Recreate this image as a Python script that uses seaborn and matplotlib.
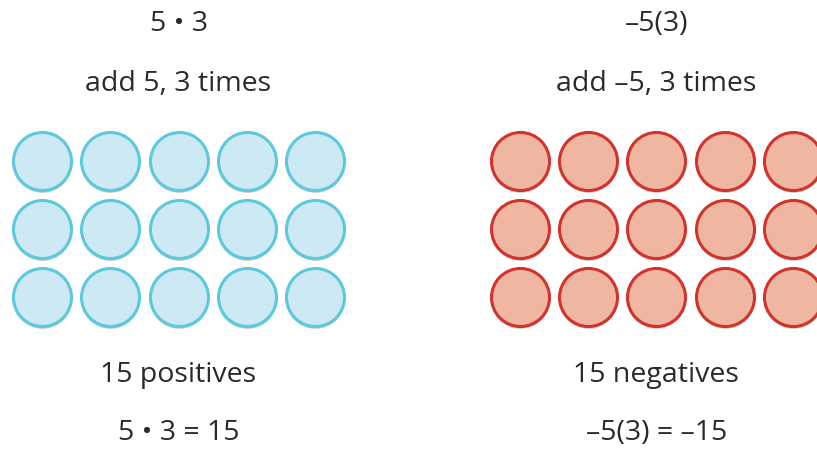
import seaborn as sns
import matplotlib.pyplot as plt
import pandas as pd

# counters: 5 per row, 3 rows, one panel of positives and one of negatives
panels = ["positive", "negative"]
per_row = 5
n_rows = 3
panel_gap = 7  # columns from one panel's first counter to the next

titles = ["5 • 3", "–5(3)"]
subtitles = ["add 5, 3 times", "add –5, 3 times"]
totals = ["15 positives", "15 negatives"]
results = ["5 • 3 = 15", "–5(3) = –15"]

fills = {"positive": "#cde9f3", "negative": "#efb7a1"}
edges = {"positive": "#5cc9dd", "negative": "#d3322d"}

rows = []
for p, panel in enumerate(panels):
    for r in range(n_rows):
        for c in range(per_row):
            rows.append({"panel": panel, "x": c + panel_gap * p, "y": r})
counters = pd.DataFrame(rows)

sns.set_style("white")
plt.rcParams["font.family"] = ["Open Sans", "DejaVu Sans"]

fig = plt.figure(figsize=(8.17, 4.49), dpi=100)
ax = fig.add_axes([0, 0, 1, 1])

# soft shadow under each counter
shadow = counters.copy()
shadow["y"] = shadow["y"] + 0.03
sns.scatterplot(data=shadow, x="x", y="y", s=1780, color="#555555",
                alpha=0.35, linewidth=0, legend=False, ax=ax)

for panel in panels:
    sub = counters[counters["panel"] == panel]
    sns.scatterplot(data=sub, x="x", y="y", s=1745, color=fills[panel],
                    edgecolor=edges[panel], linewidth=2.2, legend=False, ax=ax)

txt = dict(ha="center", va="center", fontsize=20.5, color="#2a2a2a")
for p in range(len(panels)):
    cx = (per_row - 1) / 2 + panel_gap * p
    ax.text(cx, -2.01, titles[p], **txt)
    ax.text(cx, -1.13, subtitles[p], **txt)
    ax.text(cx, 3.15, totals[p], **txt)
    ax.text(cx, 4.0, results[p], **txt)

ax.set_xlim(-0.615, 11.352)
ax.set_ylim(4.235, -2.368)
ax.axis("off")

plt.savefig("out.png", dpi=100)
